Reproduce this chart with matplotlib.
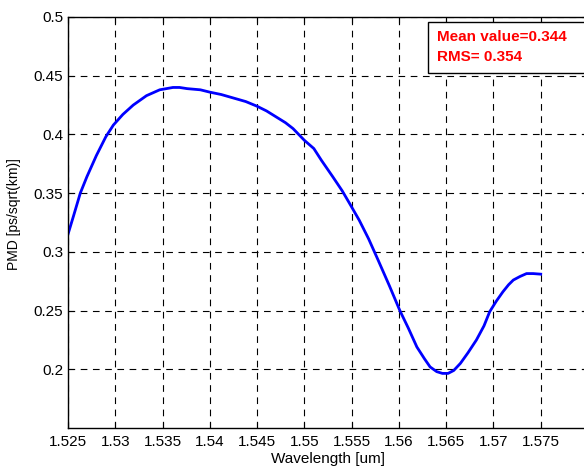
import numpy as np
import matplotlib.pyplot as plt
from matplotlib.patches import Rectangle

plt.rcParams['font.family'] = ['Liberation Sans', 'DejaVu Sans']

# PMD measured across the C-band
wavelength = [1.5250, 1.5256, 1.5263, 1.5270, 1.5280, 1.5290, 1.5298, 1.5308,
              1.5319, 1.5333, 1.5347, 1.5354, 1.5361, 1.5368, 1.5376, 1.5390,
              1.5400, 1.5412, 1.5425, 1.5438, 1.5450, 1.5460, 1.5470, 1.5480,
              1.5488, 1.5500, 1.5510, 1.5518, 1.5530, 1.5540, 1.5548, 1.5558,
              1.5568, 1.5578, 1.5590, 1.5601, 1.5610, 1.5619, 1.5627, 1.5633,
              1.5640, 1.5646, 1.5652, 1.5658, 1.5665, 1.5673, 1.5682, 1.5690,
              1.5696, 1.5703, 1.5710, 1.5716, 1.5721, 1.5728, 1.5735, 1.5742,
              1.5750]
pmd = [0.315, 0.331, 0.350, 0.364, 0.382, 0.398, 0.408, 0.417,
       0.425, 0.433, 0.438, 0.439, 0.440, 0.440, 0.439, 0.438,
       0.436, 0.434, 0.431, 0.428, 0.424, 0.420, 0.415, 0.410,
       0.405, 0.395, 0.388, 0.378, 0.364, 0.352, 0.341, 0.327,
       0.311, 0.293, 0.271, 0.250, 0.235, 0.219, 0.209, 0.202,
       0.198, 0.1965, 0.1965, 0.199, 0.205, 0.214, 0.225, 0.237,
       0.249, 0.258, 0.266, 0.272, 0.276, 0.279, 0.2815, 0.2815,
       0.281]

x_ticks = [1.525, 1.53, 1.535, 1.54, 1.545, 1.55, 1.555, 1.56, 1.565, 1.57, 1.575]
x_labels = ['1.525', '1.53', '1.535', '1.54', '1.545', '1.55', '1.555',
            '1.56', '1.565', '1.57', '1.575']
y_ticks = [0.2, 0.25, 0.3, 0.35, 0.4, 0.45, 0.5]
y_labels = ['0.2', '0.25', '0.3', '0.35', '0.4', '0.45', '0.5']

fig = plt.figure(figsize=(5.84, 4.70), dpi=100)
ax = fig.add_axes([68/584, 1 - 428/470, 520/584, 411/470])

ax.plot(wavelength, pmd, color='#0000ff', linewidth=2)
ax.set_xlim(1.525, 1.58)
ax.set_ylim(0.15, 0.5)
ax.set_xticks(x_ticks)
ax.set_xticklabels(x_labels)
ax.set_yticks(y_ticks)
ax.set_yticklabels(y_labels)
ax.tick_params(direction='in', length=4, width=0.8, labelsize=11, top=True, right=True)
ax.tick_params(axis='x', pad=5)
ax.grid(True, color='black', linestyle=(0, (6, 5)), linewidth=0.8)
for s in ax.spines.values():
    s.set_linewidth(1)

ax.set_xlabel('Wavelength [um]', fontsize=11, labelpad=2)
ax.set_ylabel('PMD [ps/sqrt(km)]', fontsize=10)
ax.yaxis.set_label_coords(21/584, 1 - 214/470, transform=fig.transFigure)

# stats box, running off the right edge
fig.patches.append(Rectangle((428/584, 1 - 73/470), 200/584, 51/470,
                             transform=fig.transFigure, facecolor='white',
                             edgecolor='black', linewidth=1, zorder=5))
fig.text(437/584, 1 - 37/470, 'Mean value=0.344', color='red', fontweight='bold',
         fontsize=11, va='center', ha='left', zorder=6)
fig.text(437/584, 1 - 57/470, 'RMS= 0.354', color='red', fontweight='bold',
         fontsize=11, va='center', ha='left', zorder=6)

fig.savefig('out.png', dpi=100)
